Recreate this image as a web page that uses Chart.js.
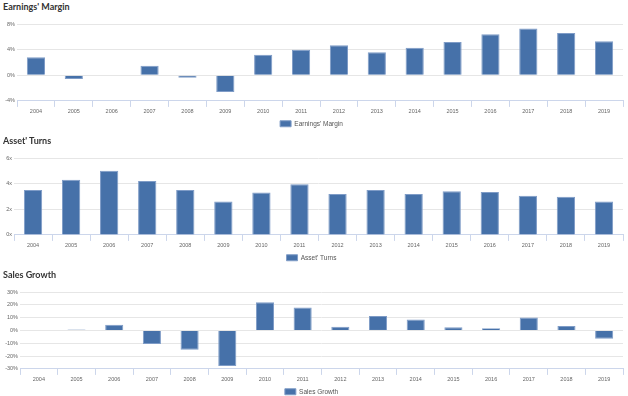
<!DOCTYPE html>
<html>
<head>
<meta charset="utf-8">
<script src="https://cdn.jsdelivr.net/npm/chart.js@4/dist/chart.umd.min.js"></script>
<style>
  html, body { margin: 0; padding: 0; background: #fff; }
  body { width: 628px; height: 396px; position: relative; overflow: hidden; }
  .panel { position: absolute; left: 0; width: 628px; }
  .panel canvas { position: absolute; left: 0; top: 0; }
  .ttl { position: absolute; left: 3px; top: 1px; font-family: Lato, "Open Sans", sans-serif; font-weight: 700; font-size: 9px; line-height: 11px; color: #333; white-space: nowrap; }
</style>
</head>
<body>
<div class="panel" id="p0" style="top:0px"><div class="ttl">Earnings' Margin</div><canvas id="c0" width="628" height="137"></canvas></div>
<div class="panel" id="p1" style="top:134px"><div class="ttl">Asset' Turns</div><canvas id="c1" width="628" height="137"></canvas></div>
<div class="panel" id="p2" style="top:264px"><div class="ttl" style="top:5px">Sales Growth</div><canvas id="c2" width="628" height="141"></canvas></div>
<script>
const years = ["2004","2005","2006","2007","2008","2009","2010","2011","2012","2013","2014","2015","2016","2017","2018","2019"];
const earningsMargin = [2.8, -0.6, 0.1, 1.5, -0.4, -2.6, 3.2, 4.0, 4.7, 3.6, 4.3, 5.2, 6.4, 7.3, 6.6, 5.3];
const assetTurns = [3.5, 4.3, 5.0, 4.2, 3.5, 2.6, 3.3, 3.95, 3.2, 3.5, 3.2, 3.4, 3.35, 3.05, 2.97, 2.6];
const salesGrowth = [null, 0.8, 4.5, -10.5, -15.0, -27.8, 22.0, 18.0, 2.9, 11.3, 8.6, 2.4, 1.8, 10.2, 3.4, -6.5];

const earningsTicks = [-4, 0, 4, 8];
const turnsTicks = [0, 2, 4, 6];
const salesTicks = [-30, -20, -10, 0, 10, 20, 30];

const tickFont = { family: "'Liberation Sans', Arial, sans-serif", size: 5.5 };

function makeChart(id, label, data, ticksArr, suffix, yWidth, topPad) {
  const ctx = document.getElementById(id);
  return new Chart(ctx, {
    type: 'bar',
    data: {
      labels: years,
      datasets: [{
        label: label,
        data: data,
        backgroundColor: '#4671a9',
        borderColor: '#7f9cc7',
        borderWidth: 1,
        barPercentage: 0.48,
        categoryPercentage: 1.0
      }]
    },
    options: {
      responsive: false,
      animation: false,
      devicePixelRatio: 1,
      layout: { padding: { top: topPad, right: 5, left: 0, bottom: 0 } },
      plugins: {
        legend: {
          position: 'bottom',
          onClick: null,
          labels: {
            boxWidth: 11, boxHeight: 6, padding: 5,
            color: '#555',
            font: { family: "'Liberation Sans', Arial, sans-serif", size: 6.5 }
          }
        },
        tooltip: { enabled: false },
        title: { display: false }
      },
      scales: {
        x: {
          offset: true,
          grid: { offset: true, drawOnChartArea: false, drawTicks: true, tickLength: 6, color: '#ccd6eb' },
          border: { display: true, color: '#ccd6eb' },
          ticks: { color: '#666', font: tickFont, padding: 1, maxRotation: 0, autoSkip: false }
        },
        y: {
          min: ticksArr[0],
          max: ticksArr[ticksArr.length - 1],
          afterBuildTicks: (s) => { s.ticks = ticksArr.map(v => ({ value: v })); },
          afterFit: (s) => { s.width = yWidth; },
          grid: { color: '#e6e6e6', drawTicks: false },
          border: { display: false },
          ticks: { color: '#666', font: tickFont, padding: 2, callback: (v) => v + suffix }
        }
      }
    }
  });
}

makeChart('c0', "Earnings' Margin", earningsMargin, earningsTicks, '%', 17, 24);
makeChart('c1', "Asset' Turns", assetTurns, turnsTicks, 'x', 14, 24);
makeChart('c2', 'Sales Growth', salesGrowth, salesTicks, '%', 20, 28);
</script>
</body>
</html>
